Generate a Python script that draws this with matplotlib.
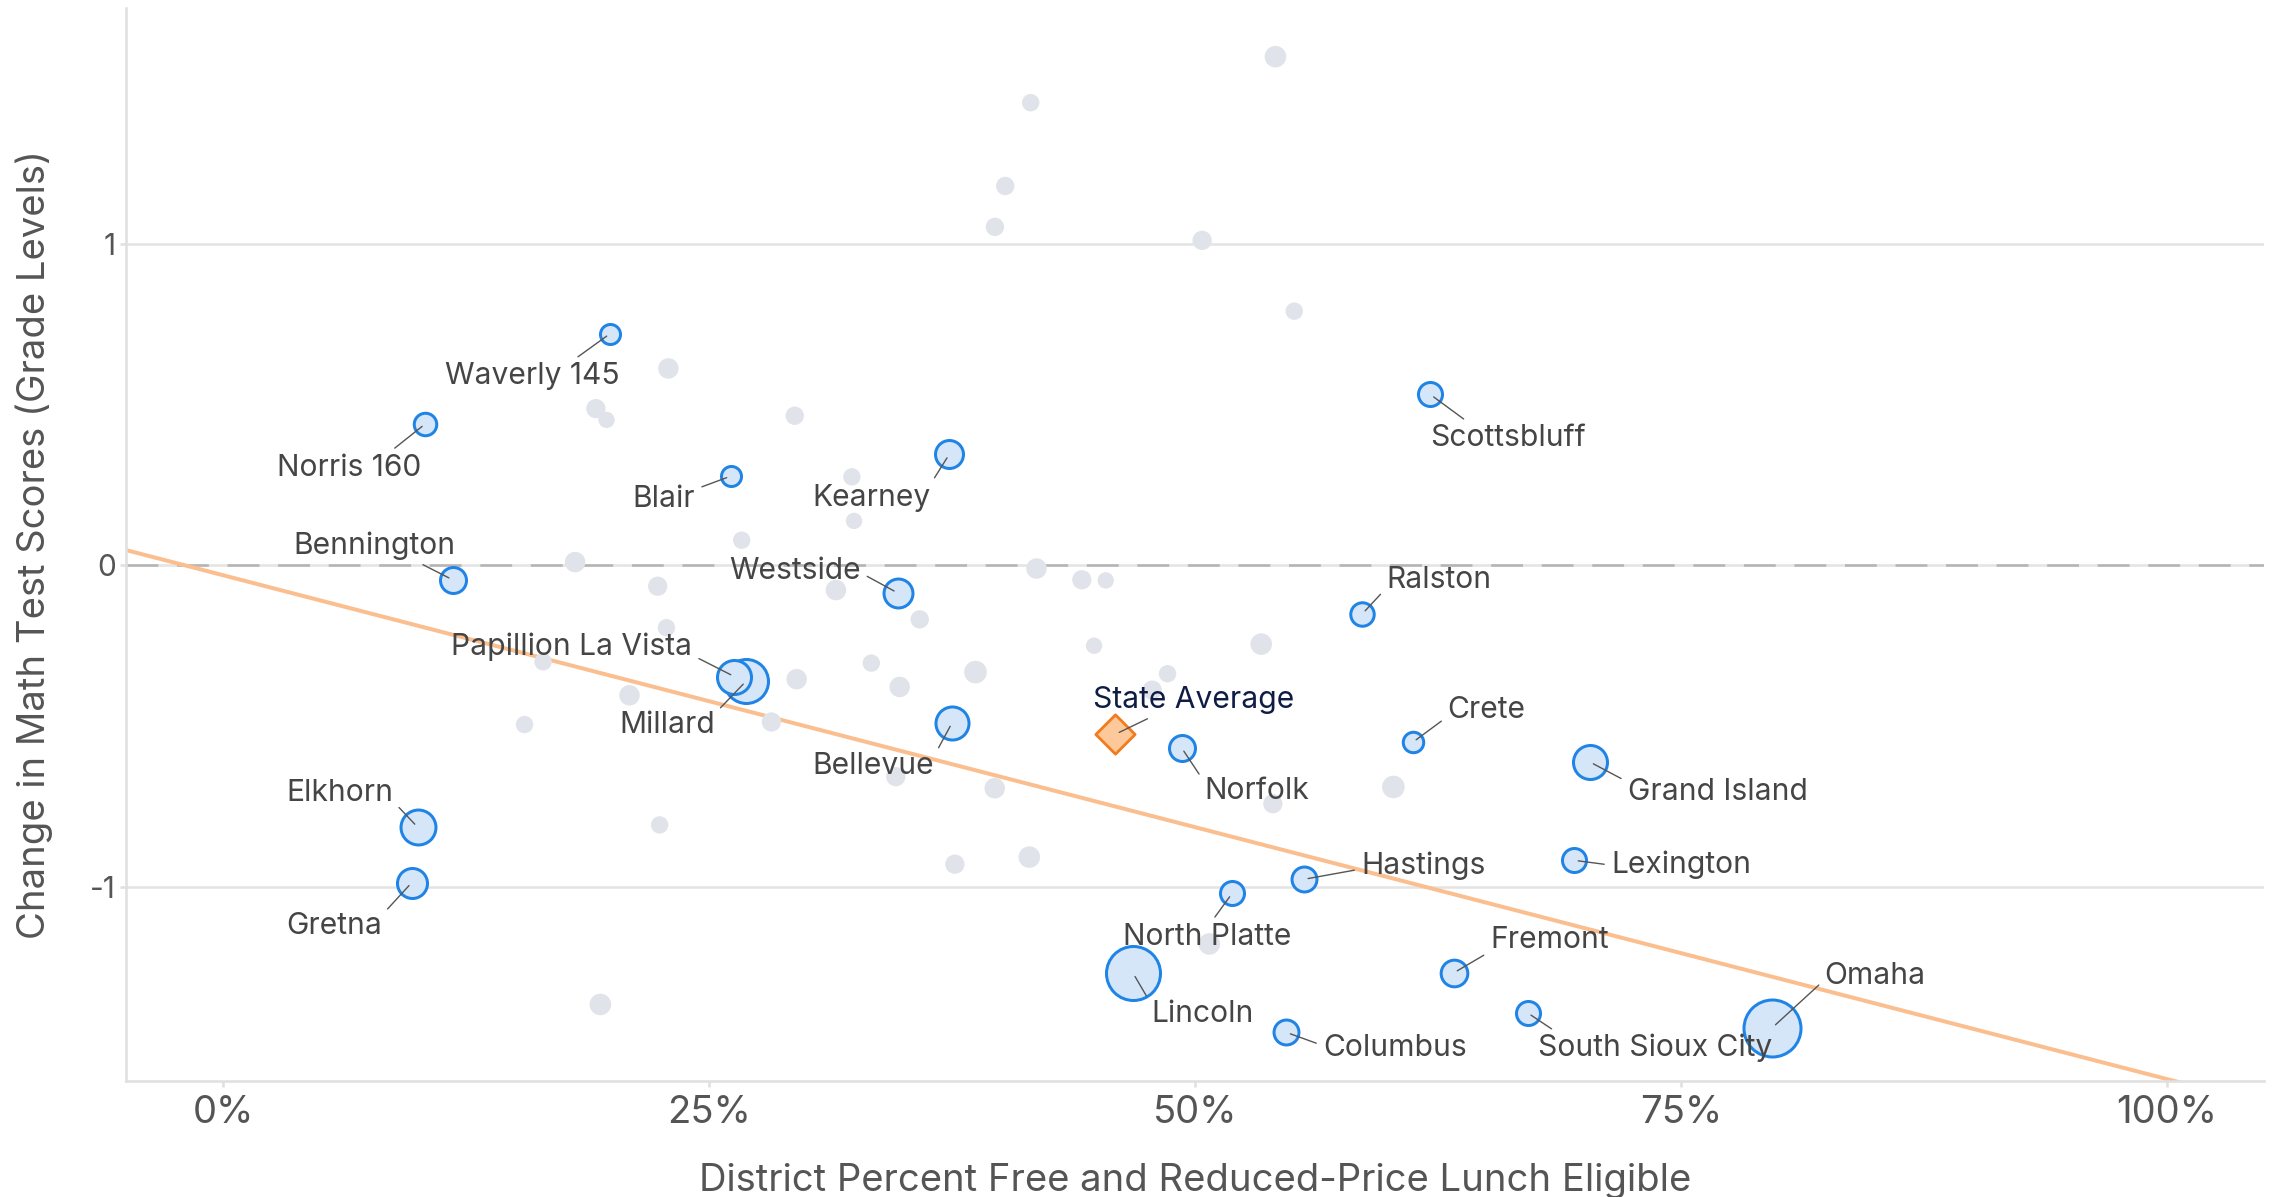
import numpy as np
import matplotlib
matplotlib.use("Agg")
import matplotlib.pyplot as plt

# ---------------- data ----------------
# highlighted districts: percent FRL (fraction), change in math score (grade levels), relative enrollment (bubble area index)
district_names = ["Waverly 145", "Norris 160", "Blair", "Kearney", "Scottsbluff", "Bennington",
                  "Westside", "Ralston", "Papillion La Vista", "Millard", "Bellevue", "Norfolk",
                  "Crete", "Grand Island", "Elkhorn", "Hastings", "Lexington", "Gretna",
                  "North Platte", "Fremont", "Omaha", "Lincoln", "Columbus", "South Sioux City"]
district_frl = [0.199, 0.104, 0.261, 0.3735, 0.621, 0.118, 0.347, 0.586, 0.263, 0.269, 0.375, 0.493,
                0.612, 0.703, 0.100, 0.556, 0.695, 0.097, 0.519, 0.633, 0.797, 0.468, 0.547, 0.671]
district_change = [0.72, 0.44, 0.277, 0.345, 0.531, -0.045, -0.086, -0.151, -0.346, -0.36, -0.489, -0.567,
                   -0.55, -0.611, -0.814, -0.976, -0.917, -0.986, -1.02, -1.267, -1.437, -1.267, -1.452, -1.391]
district_enroll = [5.3, 6.5, 5.3, 9.6, 7.3, 8.4, 10.2, 7.0, 13.7, 22.1, 13.0, 8.4,
                   5.5, 13.7, 14.4, 7.8, 7.3, 10.9, 7.3, 8.8, 36.0, 32.5, 7.8, 7.3]

# other (unlabelled) districts
other_frl = [0.5413, 0.4154, 0.4023, 0.397, 0.5036, 0.551, 0.229, 0.1917, 0.1972, 0.294, 0.3234,
             0.3245, 0.2667, 0.181, 0.2235, 0.4184, 0.4417, 0.454, 0.3152, 0.3583, 0.228, 0.448,
             0.534, 0.3334, 0.1645, 0.295, 0.387, 0.348, 0.4858, 0.4779, 0.209, 0.155, 0.282,
             0.346, 0.3969, 0.540, 0.602, 0.2245, 0.3764, 0.4147, 0.5073, 0.194]
other_change = [1.581, 1.438, 1.179, 1.052, 1.01, 0.79, 0.612, 0.487, 0.452, 0.465, 0.275,
                0.138, 0.078, 0.01, -0.065, -0.01, -0.045, -0.047, -0.077, -0.168, -0.194, -0.25,
                -0.245, -0.304, -0.30, -0.354, -0.332, -0.378, -0.337, -0.388, -0.404, -0.495, -0.487,
                -0.657, -0.693, -0.741, -0.689, -0.807, -0.929, -0.907, -1.177, -1.365]
other_enroll = [4.0, 2.6, 2.9, 2.9, 3.2, 2.6, 3.6, 3.2, 2.3, 2.9, 2.6,
                2.3, 2.6, 3.6, 3.2, 3.6, 3.2, 2.3, 3.6, 2.9, 2.6, 2.3,
                4.0, 2.6, 2.6, 3.6, 4.4, 3.6, 2.6, 3.2, 3.6, 2.6, 3.2,
                3.2, 3.6, 3.2, 4.4, 2.6, 3.2, 4.0, 4.0, 4.0]

state_avg_frl = 0.459
state_avg_change = -0.525

trend_intercept = -0.031
trend_slope = -1.566

x_ticks = [0, 0.25, 0.5, 0.75, 1.0]
x_tick_labels = ["0%", "25%", "50%", "75%", "100%"]
y_ticks = [-1, 0, 1]
y_tick_labels = ["-1", "0", "1"]

# ---------------- layout of labels (offsets in points, relpos of leader) ----------------
label_layout = {
    "Waverly 145": ((-56, -28), (0.72, 1.0)),
    "Norris 160": ((-55, -29), (0.77, 1.0)),
    "Blair": ((-48, -14), (1.0, 0.85)),
    "Kearney": ((-56, -29), (1.0, 1.0)),
    "Scottsbluff": ((56, -29), (0.26, 1.0)),
    "Bennington": ((-56, 27), (0.74, 0.0)),
    "Westside": ((-74, 18), (1.0, 0.45)),
    "Ralston": ((55, 27), (0.0, 0.2)),
    "Papillion La Vista": ((-117, 24), (1.0, 0.2)),
    "Millard": ((-57, -29), (1.0, 0.9)),
    "Bellevue": ((-57, -29), (1.0, 0.85)),
    "Norfolk": ((54, -29), (0.0, 0.85)),
    "Crete": ((53, 26), (0.0, 0.25)),
    "Grand Island": ((92, -19), (0.0, 0.85)),
    "Elkhorn": ((-56, 27), (1.0, 0.2)),
    "Hastings": ((86, 12), (0.0, 0.4)),
    "Lexington": ((77, -1), (0.0, 0.5)),
    "Gretna": ((-56, -29), (1.0, 0.9)),
    "North Platte": ((-18, -29), (0.52, 1.0)),
    "Fremont": ((69, 26), (0.0, 0.1)),
    "Omaha": ((74, 40), (0.0, 0.35)),
    "Lincoln": ((50, -27), (0.0, 0.85)),
    "Columbus": ((78, -9), (0.0, 0.6)),
    "South Sioux City": ((92, -23), (0.09, 1.0)),
}
LABEL_DY_SHIFT = -2.5  # points, global nudge of all labels

FONT = ["Inter", "DejaVu Sans"]
plt.rcParams["font.family"] = FONT

DPI = 100
fig = plt.figure(figsize=(22.76, 11.97), dpi=DPI)
ax = fig.add_axes([0.0554, 0.0969, 0.9394, 0.8966])

PX = 72.0 / DPI  # points per pixel

# grid
for yv in y_ticks:
    ax.axhline(yv, color="#e4e4e4", lw=2.6 * PX, zorder=0.5)
ax.axhline(0, color="#b5b5b5", lw=2.6 * PX, zorder=0.6, dashes=(17 * PX, 10 * PX))

# trend line
xs = np.array([-0.1, 1.1])
ax.plot(xs, trend_intercept + trend_slope * xs, color="#fbbf8f", lw=4 * PX, zorder=1,
        solid_capstyle="butt")

# other districts
o_d = 10 * np.sqrt(np.array(other_enroll)) * 1.08
ax.scatter(other_frl, other_change, s=(o_d * PX) ** 2, color="#e0e4ea", edgecolors="none", zorder=2)

# highlighted districts (largest first)
d_px = 10 * np.sqrt(np.array(district_enroll))
order = np.argsort(-d_px)
edge_px = 3.0
for i in order:
    ax.scatter([district_frl[i]], [district_change[i]], s=((d_px[i] - edge_px) * PX) ** 2,
               facecolor="#d4e6f8", edgecolor="#1f84e6", linewidths=edge_px * PX, zorder=3)

# state average diamond
ax.scatter([state_avg_frl], [state_avg_change], marker="D", s=400,
           facecolor="#fdc99b", edgecolor="#f27b1e", linewidths=2.8 * PX, zorder=3.5)

# labels
label_fs = 21.6
for name, xv, yv in zip(district_names, district_frl, district_change):
    (dx, dy), rel = label_layout[name]
    ax.annotate(name, xy=(xv, yv), xytext=(dx, dy + LABEL_DY_SHIFT), textcoords="offset points",
                ha="center", va="center", fontsize=label_fs, color="#454545", zorder=5,
                arrowprops=dict(arrowstyle="-", color="#555555", lw=1.0, shrinkA=3, shrinkB=3,
                                relpos=rel))
ax.annotate("State Average", xy=(state_avg_frl, state_avg_change), xytext=(56, 27 + LABEL_DY_SHIFT),
            textcoords="offset points", ha="center", va="center", fontsize=label_fs,
            color="#0f1d45", zorder=5,
            arrowprops=dict(arrowstyle="-", color="#555555", lw=1.0, shrinkA=3, shrinkB=3,
                            relpos=(0.32, 0.0)))

# axes styling
ax.set_xlim(-0.05, 1.05)
ax.set_ylim(-1.603, 1.733)
ax.set_xticks(x_ticks)
ax.set_xticklabels(x_tick_labels)
ax.set_yticks(y_ticks)
ax.set_yticklabels(y_tick_labels)
for s in ["top", "right"]:
    ax.spines[s].set_visible(False)
for s in ["left", "bottom"]:
    ax.spines[s].set_color("#e0e0e0")
    ax.spines[s].set_linewidth(2.6 * PX)
ax.tick_params(axis="x", length=6 * PX, width=2.6 * PX, color="#e0e0e0",
               labelsize=27.5, labelcolor="#555555", pad=6)
ax.tick_params(axis="y", length=6 * PX, width=2.6 * PX, color="#e0e0e0",
               labelsize=21.5, labelcolor="#555555", pad=3)
ax.set_xlabel("District Percent Free and Reduced-Price Lunch Eligible", fontsize=27.5,
              color="#555555", labelpad=23)
ax.set_ylabel("Change in Math Test Scores (Grade Levels)", fontsize=27.5, color="#555555",
              labelpad=27)

fig.savefig("out.png", dpi=DPI)
